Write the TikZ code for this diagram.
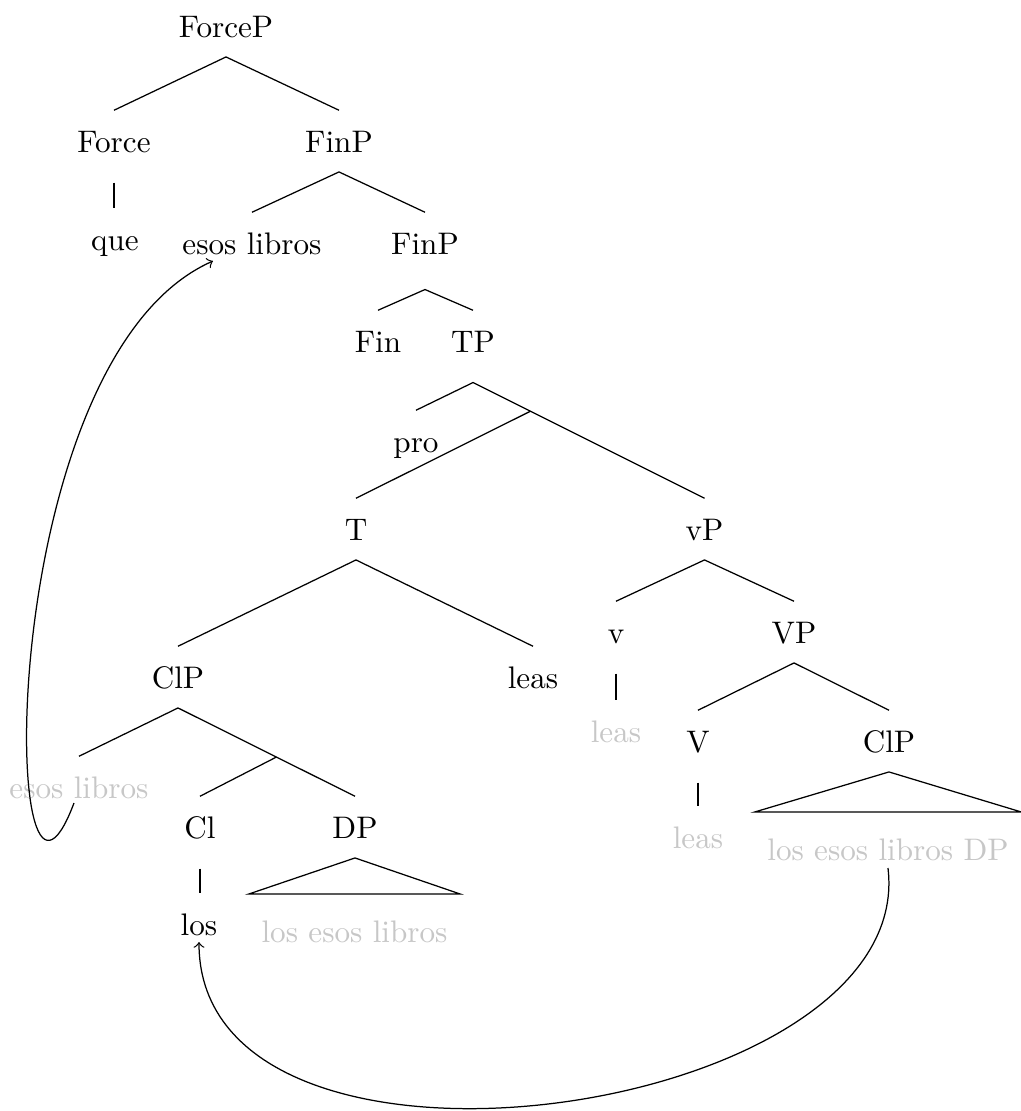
\documentclass[tikz,border=0pt]{standalone}
\usetikzlibrary{calc}
\begin{document}
\begin{tikzpicture}[x=0.321pt,y=-0.321pt,
  tn/.style={anchor=base, inner xsep=0pt, inner ysep=6.2pt, text height=7pt, text depth=0pt},
  gr/.style={text=black!22},
  roofn/.style={inner xsep=3.9pt},
  edge/.style={draw=black},
  mv/.style={->}]
\useasboundingbox (0,0) rectangle (1020,1111);
% nodes
\node[tn] (ForceP) at (226,37) {ForceP};
\node[tn] (Force) at (114,152) {Force};
\node[tn] (FinPa) at (339,152) {FinP};
\node[tn] (que) at (115,250) {que};
\node[tn] (elA) at (252,254) {esos libros};
\node[tn] (FinPb) at (425,254) {FinP};
\node[tn] (Fin) at (378,352) {Fin};
\node[tn] (TP) at (473,352) {TP};
\node[tn] (pro) at (416,452) {pro};
\node[tn] (T) at (356,540) {T};
\node[tn] (vP) at (704.5,540) {vP};
\node[tn] (ClPa) at (178,688) {ClP};
\node[tn] (leasA) at (533,688) {leas};
\node[tn] (v) at (616,643) {v};
\node[tn] (VP) at (794,643) {VP};
\node[tn,gr] (leasB) at (616,742) {leas};
\node[tn] (V) at (698,752) {V};
\node[tn] (ClPb) at (889,752) {ClP};
\node[tn,gr] (elB) at (79,798) {esos libros};
\node[tn] (Cl) at (200,838) {Cl};
\node[tn] (DP) at (355,838) {DP};
\node[tn,gr] (leasC) at (698,848) {leas};
\node[tn,gr,roofn] (losDP) at (888,860) {los esos libros DP};
\node[tn] (los) at (199,935) {los};
\node[tn,gr,roofn] (losesos) at (354.5,942) {los esos libros};
% helper coordinates
\coordinate (TPs) at ([yshift=-3.4pt]TP.south);
\coordinate (FinPbs) at ([yshift=-5pt]FinPb.south);
\coordinate (j1) at ($(TPs)!0.248!(vP.north)$);
\coordinate (j2) at ($(ClPa.south)!0.556!(DP.north)$);
% edges
\draw[edge] (Force.north) -- (ForceP.south) -- (FinPa.north);
\draw[edge] ([yshift=-3.4pt]Force.south) -- (Force.south |- que.north);
\draw[edge] (elA.north) -- (FinPa.south) -- (FinPb.north);
\draw[edge] (Fin.north) -- (FinPbs) -- (TP.north);
\draw[edge] (pro.north) -- (TPs) -- (vP.north);
\draw[edge] (j1) -- (T.north);
\draw[edge] (ClPa.north) -- (T.south) -- (leasA.north);
\draw[edge] (v.north) -- (vP.south) -- (VP.north);
\draw[edge] ([yshift=-3.4pt]v.south) -- (v.south |- leasB.north);
\draw[edge] (V.north) -- (VP.south) -- (ClPb.north);
\draw[edge] ([yshift=-3.4pt]V.south) -- (V.south |- leasC.north);
\draw[edge] (elB.north) -- (ClPa.south) -- (DP.north);
\draw[edge] (j2) -- (Cl.north);
\draw[edge] ([yshift=-3.4pt]Cl.south) -- (Cl.south |- los.north);
% roofs
\draw[edge] (ClPb.south) -- ([yshift=2pt]losDP.north west) -- ([yshift=2pt]losDP.north east) -- cycle;
\draw[edge] (DP.south) -- ([yshift=2pt]losesos.north west) -- ([yshift=2pt]losesos.north east) -- cycle;
% movement arrows
\draw[mv] ($(elB.base)+(-5,5)$) .. controls +(-74,197) and +(-223,99) .. ($(elA.base)+(-39,7)$);
\draw[mv] ($(losDP.base)+(0,8)$) .. controls +(30,250) and +(0,278) .. ($(los.base)+(0,7)$);
\end{tikzpicture}
\end{document}
